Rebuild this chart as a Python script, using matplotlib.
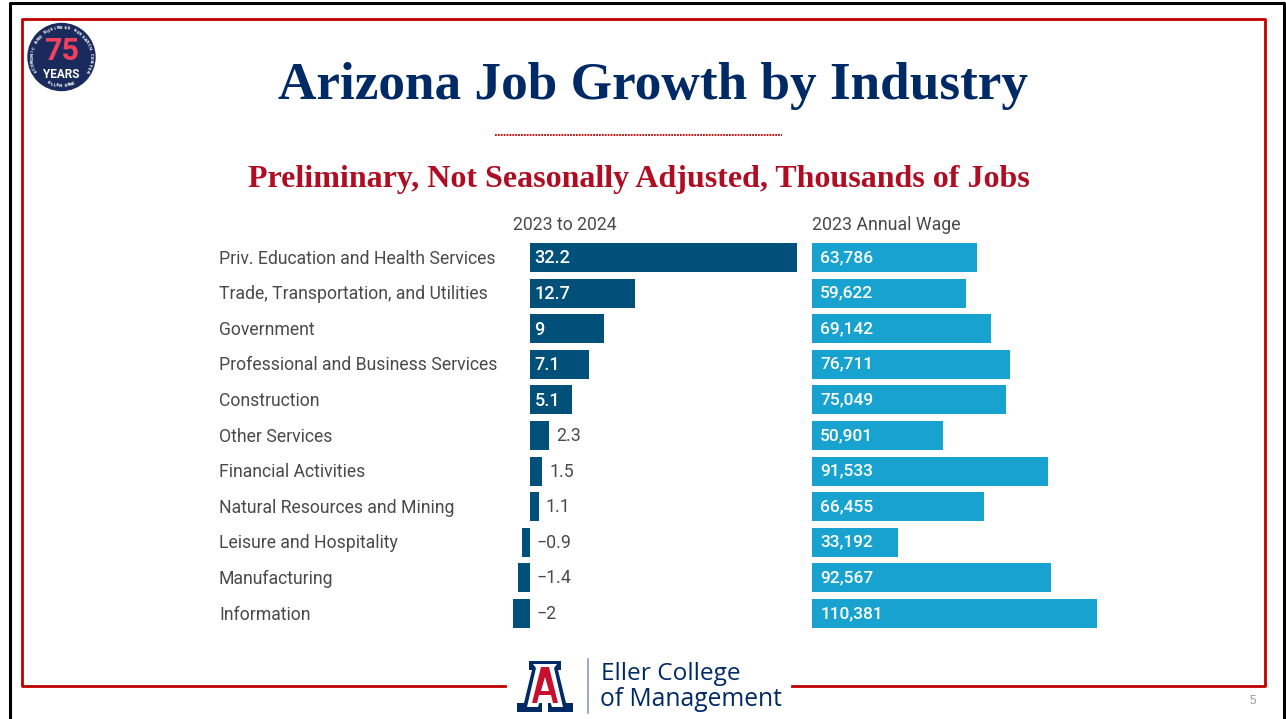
import numpy as np
import matplotlib
matplotlib.use("Agg")
import matplotlib.pyplot as plt
from matplotlib.patches import Circle, Polygon

# data
industries = ["Priv. Education and Health Services", "Trade, Transportation, and Utilities",
              "Government", "Professional and Business Services", "Construction",
              "Other Services", "Financial Activities", "Natural Resources and Mining",
              "Leisure and Hospitality", "Manufacturing", "Information"]
job_growth = [32.2, 12.7, 9, 7.1, 5.1, 2.3, 1.5, 1.1, -0.9, -1.4, -2]
annual_wage = [63786, 59622, 69142, 76711, 75049, 50901, 91533, 66455, 33192, 92567, 110381]

W, H = 1286, 719
NAVY = "#002a66"
RED = "#b00d23"
DARK_BAR = "#00507a"
LIGHT_BAR = "#17a2cf"
TEXT = "#4a4a4a"

fig = plt.figure(figsize=(W / 100, H / 100), dpi=100, facecolor="white")

# page overlay in pixel coordinates
bg = fig.add_axes([0, 0, 1, 1])
bg.set_xlim(0, W)
bg.set_ylim(H, 0)
bg.axis("off")

# frames
bg.plot([9.5, 9.5, 1284, 1284], [719, 3, 3, 719], color="black", lw=2.2)
bg.plot([505, 22, 22, 1265, 1265, 792], [686, 686, 19, 19, 686, 686], color="#c00000", lw=2.0)
bg.plot([495, 782], [135, 135], color="#c00000", lw=1.3, ls=(0, (1, 0.6)))

bg.text(653, 86, "Arizona Job Growth by Industry", family="Liberation Serif", weight="bold",
        size=38.3, color=NAVY, ha="center", va="center")
bg.text(639, 179.5, "Preliminary, Not Seasonally Adjusted, Thousands of Jobs", family="Liberation Serif",
        weight="bold", size=23, color=RED, ha="center", va="center")
bg.text(1253, 701, "5", family="Liberation Sans", size=8.5, color="#9a9a9a", ha="center", va="center")

# 75 years badge
cx, cy = 61.5, 57
bg.add_patch(Circle((cx, cy), 33.5, color="#1b2a5c"))
bg.text(cx, 50.5, "75", family="Roboto", weight="bold", size=22, color="#f2405f", ha="center", va="center")
bg.text(cx, 74, "YEARS", family="Roboto", weight="bold", size=8.5, color="white", ha="center", va="center")
ring_top = "ECONOMIC AND BUSINESS RESEARCH CENTER"
for i, ch in enumerate(ring_top):
    a = np.radians(-118 + 236 * i / (len(ring_top) - 1))
    bg.text(cx + 29 * np.sin(a), cy - 29 * np.cos(a), ch, size=2.9, color="white", weight="bold",
            ha="center", va="center", rotation=-np.degrees(a))
ring_bottom = "ELLER EBRC"
for i, ch in enumerate(ring_bottom):
    a = np.radians(-26 + 52 * i / (len(ring_bottom) - 1))
    bg.text(cx + 29 * np.sin(a), cy + 29 * np.cos(a), ch, size=3.2, color="white", weight="bold",
            ha="center", va="center", rotation=np.degrees(a))

# block A logo
block_a = [(529, 661), (561, 661), (561, 670), (558, 670), (566, 703), (573, 703), (573, 712),
           (548, 712), (548, 703), (552, 703), (550, 698), (540, 698), (538, 703), (542, 703),
           (542, 712), (517, 712), (517, 703), (524, 703), (532, 670), (529, 670)]
bg.add_patch(Polygon(block_a, closed=True, fc=NAVY, ec="none"))
bg.add_patch(Polygon([(533, 664), (557, 664), (554, 668), (563, 707), (552, 707), (550, 701),
                      (540, 701), (538, 707), (527, 707), (536, 668)], closed=True, fc="white", ec="none"))
bg.add_patch(Polygon([(541, 667), (549, 667), (558, 703), (553, 703), (551, 695), (539, 695),
                      (537, 703), (532, 703)], closed=True, fc="#c8102e", ec="none"))
bg.add_patch(Polygon([(545, 677), (549, 691), (541, 691)], closed=True, fc="white", ec="none"))
bg.plot([587.5, 587.5], [659, 713], color="#8a9bbd", lw=1.2)
bg.text(601, 673.5, "Eller College", family="Open Sans", size=17.6, color=NAVY, va="center")
bg.text(600, 699, "of Management", family="Open Sans", size=17.7, color=NAVY, va="center")

# bar panels
y = np.arange(len(industries))
row_h = 35.6
top = 257.5 - row_h / 2
bottom = top + row_h * len(industries)

left_x0, left_x1 = 513.0, 797.0
ax1 = fig.add_axes([left_x0 / W, 1 - bottom / H, (left_x1 - left_x0) / W, (bottom - top) / H])
ax1.barh(y, job_growth, height=0.82, color=DARK_BAR)
ax1.set_xlim(-2, 32.2)
ax1.set_ylim(len(industries) - 0.5, -0.5)
ax1.axis("off")
for i, v in enumerate(job_growth):
    label = f"{v:g}".replace("-", "\u2212")
    if v > 3:
        ax1.annotate(label, (0, i), xytext=(3.4, -0.6), textcoords="offset points", color="white",
                     family="Roboto", weight="medium", size=13, va="center")
    elif v > 0:
        ax1.annotate(label, (v, i), xytext=(5, -0.3), textcoords="offset points",
                     color=TEXT, family="Roboto", size=12.8, va="center")
    else:
        ax1.annotate(label, (0, i), xytext=(5, -0.3), textcoords="offset points",
                     color=TEXT, family="Roboto", size=12.8, va="center")

right_x0, right_x1 = 812.0, 1097.0
ax2 = fig.add_axes([right_x0 / W, 1 - bottom / H, (right_x1 - right_x0) / W, (bottom - top) / H])
ax2.barh(y, annual_wage, height=0.82, color=LIGHT_BAR)
ax2.set_xlim(0, 110381)
ax2.set_ylim(len(industries) - 0.5, -0.5)
ax2.axis("off")
for i, v in enumerate(annual_wage):
    ax2.annotate(f"{v:,}", (0, i), xytext=(6, 0), textcoords="offset points", color="white",
                 family="Roboto", weight="medium", size=12.5, va="center")

# row labels and headers
for i, name in enumerate(industries):
    bg.text(219, 258.5 + row_h * i, name, family="Roboto", size=12.7, color=TEXT, va="center")
bg.text(513, 225.5, "2023 to 2024", family="Roboto", size=12.7, color=TEXT, va="center")
bg.text(812, 225.5, "2023 Annual Wage", family="Roboto", size=12.8, color=TEXT, va="center")

fig.savefig("out.png", dpi=100)
